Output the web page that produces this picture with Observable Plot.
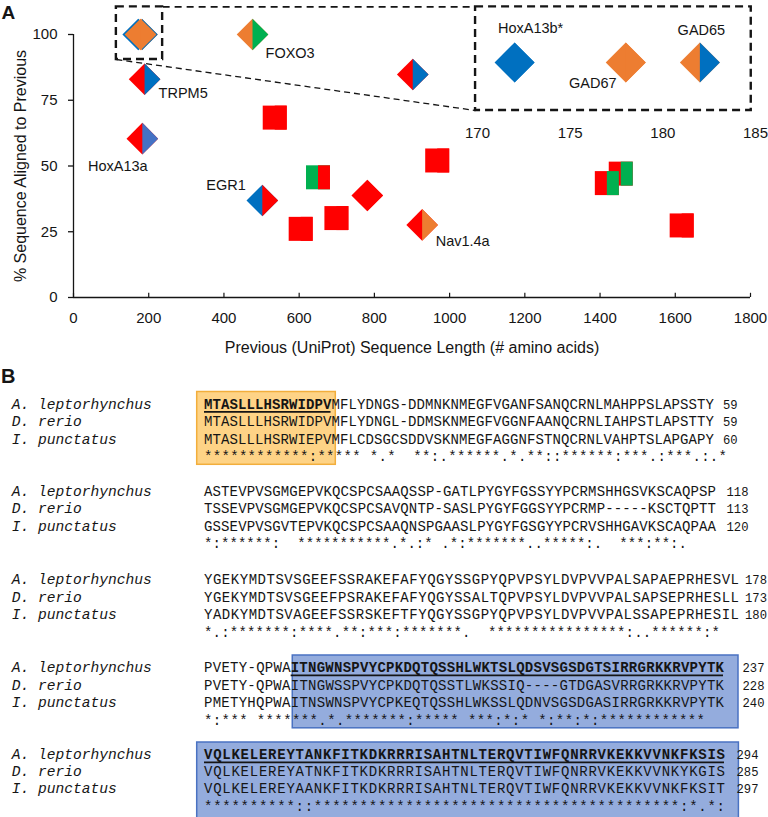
<!DOCTYPE html>
<html><head><meta charset="utf-8">
<script src="https://cdn.jsdelivr.net/npm/d3@7"></script>
<script src="https://cdn.jsdelivr.net/npm/@observablehq/plot@0.6"></script>
<style>
html,body{margin:0;padding:0;background:#fff;}
#page{position:relative;width:768px;height:817px;overflow:hidden;}
#page svg{position:absolute;}
</style></head><body><div id="page"></div>
<script>
// ================= Panel A data =================
const RED = "#ff0000", BLUE = "#0070c0", BLUE2 = "#4472c4", ORANGE = "#ed7d31", GREEN = "#00b050";
const geneLabel   = ["GAD65","HoxA13b*","GAD67","FOXO3","TRPM5","HoxA13a","","","","","EGR1","","","","Nav1.4a","","",""];
const prevLength  = [182,172,178,476,189,183,902,535,650,781,502,604,699,967,927,1455,1418,1617];
const pctAligned  = [100,100,100,100,83,60.4,84.8,68.4,45.7,38.8,36.9,26.1,30.2,52.1,27.6,47.1,43.5,27.4];
const markerShape = ["diamond","diamond","diamond","diamond","diamond","diamond","diamond","square","square","diamond","diamond","square","square","square","diamond","square","square","square"];
const leftColor   = [ORANGE,BLUE,ORANGE,ORANGE,RED,RED,RED,RED,GREEN,RED,BLUE,RED,RED,RED,RED,RED,RED,RED];
const rightColor  = [BLUE,BLUE,ORANGE,GREEN,BLUE,BLUE2,BLUE,RED,RED,RED,RED,RED,RED,RED,ORANGE,GREEN,GREEN,RED];
const xTicks = [0,200,400,600,800,1000,1200,1400,1600,1800];
const yTicks = [0,25,50,75,100];
const xTitle = "Previous (UniProt) Sequence Length (# amino acids)";
const yTitle = "% Sequence Aligned to Previous";
// zoom annotation (data units of the main chart)
const zoomBoxX = [114,237], zoomBoxY = [90.5,110.5];
const insetBoxX = [1069,1802], insetBoxY = [71.1,110.5];
// inset data
const insetLabel = ["HoxA13b*","GAD67","GAD65"];
const insetLength = [172,178,182];
const insetPct = [100,100,100];
const insetLeft = [BLUE,ORANGE,ORANGE];
const insetRight = [BLUE,ORANGE,BLUE];
const insetTicks = [170,175,180,185];

// ================= Panel B data =================
const species = ["A. leptorhynchus","D. rerio","I. punctatus"];
const seqA = [
 "MTASLLLHSRWIDPVMFLYDNGS-DDMNKNMEGFVGANFSANQCRNLMAHPPSLAPSSTY",
 "ASTEVPVSGMGEPVKQCSPCSAAQSSP-GATLPYGYFGSSYYPCRMSHHGSVKSCAQPSP",
 "YGEKYMDTSVSGEEFSSRAKEFAFYQGYSSGPYQPVPSYLDVPVVPALSAPAEPRHESVL",
 "PVETY-QPWAITNGWNSPVYCPKDQTQSSHLWKTSLQDSVSGSDGTSIRRGRKKRVPYTK",
 "VQLKELEREYTANKFITKDKRRRISAHTNLTERQVTIWFQNRRVKEKKVVNKFKSIS"];
const seqD = [
 "MTASLLLHSRWIDPVMFLYDNGL-DDMSKNMEGFVGGNFAANQCRNLIAHPSTLAPSTTY",
 "TSSEVPVSGMGEPVKQCSPCSAVQNTP-SASLPYGYFGGSYYPCRMP-----KSCTQPTT",
 "YGEKYMDTSVSGEEFPSRAKEFAFYQGYSSALTQPVPSYLDVPVVPALSAPSEPRHESLL",
 "PVETY-QPWAITNGWSSPVYCPKDQTQSSTLWKSSIQ----GTDGASVRRGRKKRVPYTK",
 "VQLKELEREYATNKFITKDKRRRISAHTNLTERQVTIWFQNRRVKEKKVVNKYKGIS"];
const seqI = [
 "MTASLLLHSRWIEPVMFLCDSGCSDDVSKNMEGFAGGNFSTNQCRNLVAHPTSLAPGAPY",
 "GSSEVPVSGVTEPVKQCSPCSAAQNSPGAASLPYGYFGSGYYPCRVSHHGAVKSCAQPAA",
 "YADKYMDTSVAGEEFSSRSKEFTFYQGYSSGPYQPVPSYLDVPVVPALSSAPEPRHESIL",
 "PMETYHQPWAITNSWNSPVYCPKEQTQSSHLWKSSLQDNVSGSDGASIRRGRKKRVPYTK",
 "VQLKELEREYAANKFITKDKRRRISAHTNLTERQVTIWFQNRRVKEKKVVNKFKSIT"];
const consensus = [
 "************:***** *.*  **:.******.*.**::******:***.:***.:.*",
 "*:******:  ***********.*.:* .*:*******..*****:.  ***:**:.",
 "*.:*******:****.**:***:*******.  ****************:..******:*",
 "*:*** *******.*.*******:***** ***:*:* *:**:*:************",
 "**********::****************************************:*.*:"];
const endA = [59,118,178,237,294];
const endD = [59,113,173,228,285];
const endI = [60,120,180,240,297];
// highlighted regions: block, first column, end column (exclusive), colour
const hlBlock = [0,3,4];
const hlStart = [0,10,0];
const hlEnd   = [15,60,57];
const hlKind  = ["orange","blue","blue"];

// ================= layout / style =================
const SANS = "'Liberation Sans', Arial, Helvetica, sans-serif";
const MONO = "'Liberation Mono', 'Courier New', monospace";
const INK = "#151515";

const sym = fn => ({draw(ctx, size){ const h = Math.sqrt(size/Math.PI); fn(ctx,h); }});
const SYM = {
  diamond: {
    full: sym((c,h)=>{c.moveTo(0,-h);c.lineTo(h,0);c.lineTo(0,h);c.lineTo(-h,0);c.closePath();}),
    right: sym((c,h)=>{c.moveTo(0,-h);c.lineTo(h,0);c.lineTo(0,h);c.closePath();})
  },
  square: {
    full: sym((c,h)=>{c.moveTo(-h,-h);c.lineTo(h,-h);c.lineTo(h,h);c.lineTo(-h,h);c.closePath();}),
    right: sym((c,h)=>{c.moveTo(0,-h);c.lineTo(h,-h);c.lineTo(h,h);c.lineTo(0,h);c.closePath();})
  }
};
const R_MAIN = {diamond: 15.8, square: 12};
const R_INSET = 20;

const mainLabelPos = {
  "FOXO3":   {anchor:"start",  dx:13,   dy:19},
  "TRPM5":   {anchor:"start",  dx:14,   dy:14},
  "HoxA13a": {anchor:"middle", dx:-24.5,dy:28},
  "EGR1":    {anchor:"end",    dx:-16.5,dy:-15},
  "Nav1.4a": {anchor:"start",  dx:13.5, dy:16}
};
const insetLabelPos = {
  "HoxA13b*": {dx:16,  dy:-34},
  "GAD67":    {dx:-33, dy:21},
  "GAD65":    {dx:1.5, dy:-32}
};
const plainNum = d => String(d);

const page = document.getElementById("page");

// ---------- main chart ----------
const idx = d3.range(prevLength.length);
const markerMarks = idx.flatMap(i => {
  const s = SYM[markerShape[i]], r = R_MAIN[markerShape[i]];
  return [
    Plot.dot([i], {x: j => prevLength[j], y: j => pctAligned[j], symbol: s.full, r, fill: j => leftColor[j]}),
    Plot.dot([i], {x: j => prevLength[j], y: j => pctAligned[j], symbol: s.right, r, fill: j => rightColor[j]})
  ];
});
const labelMarks = idx.filter(i => mainLabelPos[geneLabel[i]]).map(i => {
  const p = mainLabelPos[geneLabel[i]];
  return Plot.text([i], {x: j => prevLength[j], y: j => pctAligned[j], text: j => geneLabel[j],
    textAnchor: p.anchor, lineAnchor: "middle", dx: p.dx, dy: p.dy, fontSize: 14.5, fill: INK});
});

const main = Plot.plot({
  width: 768, height: 365,
  marginLeft: 73, marginRight: 18, marginTop: 34, marginBottom: 68,
  x: {domain: [0,1800]}, y: {domain: [0,100]},
  color: {type: "identity"},
  style: {fontFamily: SANS, fontSize: "15px", color: INK, background: "none", overflow: "visible"},
  marks: [
    Plot.axisX(xTicks, {tickSize: 0, tickPadding: 14.5, fontSize: 15, label: null, tickFormat: plainNum}),
    Plot.axisY(yTicks, {tickSize: 5, tickPadding: 11, fontSize: 15, label: null, strokeWidth: 1.3, tickFormat: plainNum}),
    Plot.ruleY([0], {stroke: INK, strokeWidth: 1.3}),
    Plot.ruleX([0], {stroke: INK, strokeWidth: 1.3}),
    Plot.ruleX(xTicks, {y1: 0, y2: 1.6, stroke: INK, strokeWidth: 1.2}),
    Plot.text([xTitle], {frameAnchor: "bottom", textAnchor: "middle", lineAnchor: "middle", dy: 50, fontSize: 16, fill: INK}),
    Plot.text([yTitle], {frameAnchor: "left", textAnchor: "middle", lineAnchor: "middle", rotate: -90, dx: -53, fontSize: 16, fill: INK}),
    ...markerMarks,
    ...labelMarks,
    Plot.rect([0], {x1: zoomBoxX[0], x2: zoomBoxX[1], y1: zoomBoxY[0], y2: zoomBoxY[1], fill: "none", stroke: INK, strokeWidth: 2.4, strokeDasharray: "8,5"}),
    Plot.rect([0], {x1: insetBoxX[0], x2: insetBoxX[1], y1: insetBoxY[0], y2: insetBoxY[1], fill: "none", stroke: INK, strokeWidth: 2.4, strokeDasharray: "8,5"}),
    Plot.link([0], {x1: zoomBoxX[0], y1: zoomBoxY[0], x2: insetBoxX[0], y2: insetBoxY[0], stroke: INK, strokeWidth: 1.3, strokeDasharray: "6,4"}),
    Plot.link([0], {x1: zoomBoxX[1], y1: zoomBoxY[1], x2: insetBoxX[0], y2: insetBoxY[1], stroke: INK, strokeWidth: 1.8, strokeDasharray: "7,5"})
  ]
});
main.style.left = "0px"; main.style.top = "0px";
page.appendChild(main);

// ---------- inset (zoomed x axis 170-185) ----------
const iidx = d3.range(insetLength.length);
const insetMarks = iidx.flatMap(i => [
  Plot.dot([i], {x: j => insetLength[j], y: j => insetPct[j], symbol: SYM.diamond.full, r: R_INSET, fill: j => insetLeft[j]}),
  Plot.dot([i], {x: j => insetLength[j], y: j => insetPct[j], symbol: SYM.diamond.right, r: R_INSET, fill: j => insetRight[j]}),
  Plot.text([i], {x: j => insetLength[j], y: j => insetPct[j], text: j => insetLabel[j], textAnchor: "middle", lineAnchor: "middle",
    dx: insetLabelPos[insetLabel[i]].dx, dy: insetLabelPos[insetLabel[i]].dy, fontSize: 14.5, fill: INK})
]);
const inset = Plot.plot({
  width: 328, height: 145, marginLeft: 37, marginRight: 13, marginTop: 0, marginBottom: 22,
  x: {domain: [170,185]}, y: {domain: [90,110], range: [82,42], axis: null},
  color: {type: "identity"},
  style: {fontFamily: SANS, fontSize: "15px", color: INK, background: "none", overflow: "visible"},
  marks: [
    Plot.axisX(insetTicks, {tickSize: 0, tickPadding: 4, fontSize: 15, label: null, tickFormat: plainNum}),
    ...insetMarks
  ]
});
inset.style.left = "440px"; inset.style.top = "0px";
page.appendChild(inset);

// ---------- Panel B: alignment ----------
const LB = {nameX: 11.7, seqX: 204, blockY: [408.5,495.5,584,672,759], rowGap: [17.6,17.6,17.6,17.6,17.2],
  seqEnd: [714,716,739,724,725], consEnd: [727,687,720,705,725], numX: [723,726.5,745,742.5,736.5], fs: 14, numFs: 12.2,
  hlPadL: [7.3,-1.6,7.3], hlPadR: [3.8,14,13.4], hlTop: 17, hlBot: [3,3,12]};
const HL = {orange: {fill: "#fed386", stroke: "#f2ae3c"}, blue: {fill: "#94acdd", stroke: "#4a72c2"}};

const svgB = d3.select(page).append("svg").attr("width", 768).attr("height", 817)
  .style("left", "0px").style("top", "0px");

const pitch = b => (LB.seqEnd[b] - LB.seqX) / seqA[b].length;
const colX = (b, c) => LB.seqX + c * pitch(b);
const rowY = (b, r) => LB.blockY[b] + r * LB.rowGap[b];

// highlight boxes
hlBlock.forEach((b, k) => {
  const x1 = colX(b, hlStart[k]) - LB.hlPadL[k];
  const x2 = colX(b, hlEnd[k]) + LB.hlPadR[k];
  const y1 = rowY(b, 0) - LB.hlTop, y2 = rowY(b, 3) + LB.hlBot[k];
  svgB.append("rect").attr("x", x1).attr("y", y1).attr("width", x2 - x1).attr("height", y2 - y1)
    .attr("fill", HL[hlKind[k]].fill).attr("stroke", HL[hlKind[k]].stroke).attr("stroke-width", 1.5);
});

function run(str, b, row, col, bold) {
  if (!str.length) return;
  svgB.append("text").attr("x", colX(b, col)).attr("y", rowY(b, row))
    .attr("textLength", str.length * pitch(b)).attr("lengthAdjust", "spacing")
    .attr("xml:space", "preserve").style("white-space", "pre")
    .attr("font-family", MONO).attr("font-size", LB.fs).attr("fill", INK)
    .attr("font-weight", bold ? "bold" : "normal").text(str);
}

const seqs = [seqA, seqD, seqI];
const ends = [endA, endD, endI];
seqA.forEach((_, b) => {
  species.forEach((name, r) => {
    svgB.append("text").attr("x", LB.nameX).attr("y", rowY(b, r)).attr("font-family", MONO)
      .attr("font-size", 14.6).attr("font-style", "italic").attr("fill", INK).text(name);
    const s = seqs[r][b];
    const k = hlBlock.indexOf(b);
    if (r === 0 && k >= 0) {
      run(s.slice(0, hlStart[k]), b, r, 0, false);
      run(s.slice(hlStart[k], hlEnd[k]), b, r, hlStart[k], true);
      run(s.slice(hlEnd[k]), b, r, hlEnd[k], false);
      svgB.append("line").attr("x1", colX(b, hlStart[k])).attr("x2", colX(b, hlEnd[k]) - 1)
        .attr("y1", rowY(b, 0) + 3.4).attr("y2", rowY(b, 0) + 3.4).attr("stroke", INK).attr("stroke-width", 1.8);
    } else {
      run(s, b, r, 0, false);
    }
    svgB.append("text").attr("x", LB.numX[b]).attr("y", rowY(b, r)).attr("font-family", MONO)
      .attr("font-size", LB.numFs).attr("fill", INK).text(ends[r][b]);
  });
  svgB.append("text").attr("x", LB.seqX).attr("y", rowY(b, 3))
    .attr("textLength", LB.consEnd[b] - LB.seqX).attr("lengthAdjust", "spacing")
    .attr("xml:space", "preserve").style("white-space", "pre")
    .attr("font-family", MONO).attr("font-size", LB.fs).attr("fill", INK).text(consensus[b]);
});

// panel letters
svgB.append("text").attr("x", 1.5).attr("y", 18.5).attr("font-family", SANS).attr("font-weight", "bold").attr("font-size", 19).attr("fill", INK).text("A");
svgB.append("text").attr("x", 1).attr("y", 383).attr("font-family", SANS).attr("font-weight", "bold").attr("font-size", 20).attr("fill", INK).text("B");
</script>
</body></html>
